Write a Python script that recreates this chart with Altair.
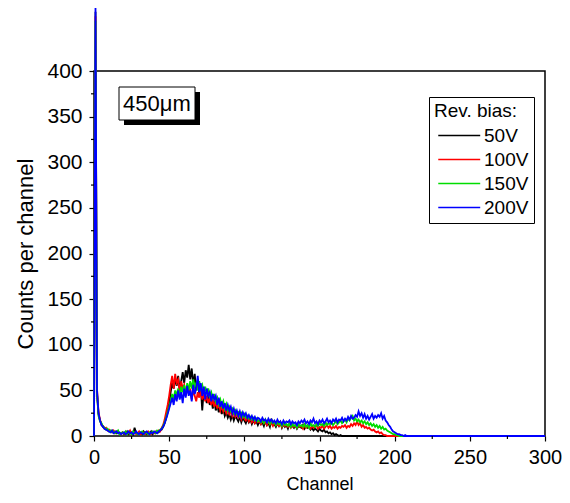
import altair as alt
import pandas as pd

# ---------------- data ----------------
series_names = ["50V", "100V", "150V", "200V"]
series_colors = ["#000000", "#ff0000", "#00dd00", "#0000ff"]

# counts per channel, channel = index (0, 1, 2, ...); the rest is 0 up to channel 300
counts_50v = [
    0, 465, 46, 24, 17, 13, 10, 9, 8, 7,
    6, 5, 6, 4, 5, 3, 4, 2, 3, 4,
    2, 3, 5, 2, 3, 4, 2, 9, 3, 2,
    4, 3, 2, 5, 3, 2, 4, 3, 5, 2,
    4, 3, 5, 4, 6, 7, 10, 14, 20, 27,
    36, 48, 58, 52, 63, 55, 66, 50, 60, 70,
    58, 72, 64, 78, 62, 74, 56, 68, 50, 60,
    46, 54, 28, 50, 44, 36, 46, 34, 42, 30,
    38, 28, 34, 26, 32, 24, 30, 22, 26, 20,
    24, 18, 23, 17, 22, 19, 16, 21, 15, 20,
    17, 14, 19, 15, 18, 13, 17, 14, 16, 12,
    16, 13, 15, 11, 17, 12, 14, 10, 19, 12,
    13, 10, 14, 11, 15, 9, 13, 10, 12, 8,
    13, 10, 11, 9, 12, 8, 11, 10, 9, 12,
    8, 11, 9, 10, 7, 9, 6, 8, 7, 5,
    8, 6, 5, 7, 4, 5, 3, 4, 2, 3,
    1, 2, 1, 0, 1, 0, 0,
]
counts_100v = [
    0, 460, 52, 26, 18, 12, 11, 8, 9, 6,
    7, 5, 4, 6, 3, 5, 4, 3, 2, 4,
    3, 2, 4, 3, 6, 2, 3, 4, 2, 3,
    5, 2, 3, 4, 2, 3, 5, 3, 2, 4,
    3, 5, 4, 6, 5, 9, 12, 18, 26, 34,
    44, 56, 66, 52, 68, 58, 62, 48, 60, 52,
    56, 44, 54, 46, 52, 40, 50, 44, 38, 48,
    42, 50, 40, 46, 38, 44, 36, 42, 34, 40,
    32, 38, 30, 36, 28, 33, 27, 31, 25, 29,
    24, 28, 22, 26, 21, 24, 20, 23, 18, 22,
    19, 17, 21, 16, 19, 15, 18, 14, 17, 15,
    16, 13, 17, 14, 15, 12, 16, 13, 14, 11,
    15, 12, 13, 11, 14, 10, 13, 11, 12, 10,
    13, 9, 12, 10, 11, 9, 12, 10, 11, 8,
    12, 9, 11, 10, 8, 11, 9, 10, 12, 8,
    10, 9, 11, 8, 10, 12, 9, 11, 8, 10,
    9, 11, 8, 10, 9, 11, 10, 12, 9, 11,
    10, 13, 11, 14, 12, 16, 12, 14, 10, 12,
    9, 10, 8, 9, 7, 6, 7, 5, 4, 5,
    3, 4, 2, 1, 1, 0, 0,
]
counts_150v = [
    0, 455, 48, 22, 16, 14, 10, 9, 7, 8,
    5, 6, 4, 5, 3, 4, 6, 2, 3, 4,
    3, 5, 2, 4, 3, 2, 5, 3, 4, 2,
    3, 4, 5, 2, 4, 3, 2, 4, 3, 5,
    4, 3, 6, 5, 7, 8, 11, 15, 20, 26,
    32, 38, 46, 40, 50, 44, 52, 42, 54, 48,
    56, 46, 58, 50, 60, 52, 62, 54, 58, 50,
    60, 52, 56, 48, 54, 46, 52, 44, 48, 40,
    46, 38, 42, 35, 40, 33, 38, 30, 35, 28,
    32, 27, 30, 25, 28, 24, 26, 22, 25, 21,
    24, 20, 22, 19, 21, 18, 20, 17, 19, 16,
    18, 15, 17, 14, 18, 15, 16, 13, 17, 14,
    15, 12, 16, 13, 14, 11, 15, 12, 13, 11,
    14, 10, 13, 11, 12, 9, 13, 11, 12, 10,
    13, 10, 12, 9, 14, 11, 12, 10, 13, 11,
    14, 12, 13, 11, 15, 12, 14, 13, 15, 12,
    14, 16, 13, 15, 17, 14, 16, 18, 15, 19,
    17, 20, 22, 17, 19, 16, 18, 15, 17, 14,
    16, 13, 15, 12, 14, 11, 13, 10, 12, 9,
    11, 8, 10, 7, 8, 6, 5, 4, 3, 2,
    2, 1, 1, 0, 0,
]
counts_200v = [
    0, 470, 50, 25, 17, 12, 10, 8, 7, 6,
    5, 4, 6, 3, 4, 5, 3, 4, 2, 3,
    4, 2, 3, 5, 3, 4, 2, 3, 5, 3,
    2, 4, 3, 2, 4, 5, 3, 2, 4, 3,
    5, 4, 3, 5, 6, 8, 10, 14, 19, 24,
    30, 36, 42, 34, 46, 38, 50, 40, 48, 36,
    52, 42, 55, 44, 50, 38, 56, 46, 52, 66,
    48, 58, 44, 54, 40, 52, 44, 48, 38, 46,
    40, 44, 34, 42, 32, 38, 30, 36, 28, 34,
    28, 32, 25, 30, 24, 28, 22, 27, 21, 26,
    22, 25, 20, 23, 19, 22, 18, 21, 17, 20,
    19, 16, 20, 17, 18, 15, 19, 16, 18, 15,
    17, 14, 18, 15, 16, 13, 17, 14, 16, 15,
    17, 13, 16, 14, 15, 12, 16, 14, 17, 15,
    18, 14, 16, 13, 17, 15, 19, 14, 16, 13,
    17, 15, 18, 14, 16, 19, 15, 17, 14, 18,
    16, 19, 15, 18, 17, 20, 16, 19, 17, 21,
    18, 22, 19, 20, 23, 21, 27, 22, 25, 20,
    24, 19, 22, 18, 21, 24, 19, 22, 20, 23,
    21, 25, 19, 22, 17, 15, 12, 10, 7, 5,
    4, 3, 2, 2, 1, 1, 0, 1, 0, 0,
]
last_channel = 300

x_ticks = [0, 50, 100, 150, 200, 250, 300]
x_minor = [25, 75, 125, 175, 225, 275]
y_ticks = [0, 50, 100, 150, 200, 250, 300, 350, 400]
y_minor = [25, 75, 125, 175, 225, 275, 325, 375]
sample_label = "450μm"

# ---------------- build table ----------------
rows = []
for name, vals in zip(series_names, [counts_50v, counts_100v, counts_150v, counts_200v]):
    for i, v in enumerate(vals):
        rows.append({"channel": i, "counts": v, "bias": name})
    rows.append({"channel": last_channel, "counts": 0, "bias": name})
df = pd.DataFrame(rows)

FONT = "Liberation Sans"

x_enc = alt.X(
    "channel:Q",
    scale=alt.Scale(domain=[0, 300], nice=False, zero=False),
    axis=alt.Axis(values=x_ticks, title="Channel", titleFontSize=18, titlePadding=8,
                  labelPadding=6, labelFontSize=20, format="d", labelFlush=False),
)
y_enc = alt.Y(
    "counts:Q",
    scale=alt.Scale(domain=[0, 400], nice=False, zero=False),
    axis=alt.Axis(values=y_ticks, title="Counts per channel", titleFontSize=22, titlePadding=9,
                  labelPadding=7, labelFontSize=21, format="d", labelFlush=False),
)
legend = alt.Legend(
    title="Rev. bias:", orient="none", legendX=335, legendY=26,
    strokeColor="black", fillColor="white", padding=5,
    symbolType="M-1,0H7", symbolSize=110, symbolStrokeWidth=1.5, labelOffset=31,
    labelFontSize=19, titleFontSize=19, titleFontWeight="normal",
    labelFont=FONT, titleFont=FONT, labelColor="black", titleColor="black",
    rowPadding=4, titlePadding=5,
)
color_enc = alt.Color(
    "bias:N",
    scale=alt.Scale(domain=series_names, range=series_colors),
    legend=legend,
    sort=series_names,
)

layers = []
for name in series_names:
    layers.append(
        alt.Chart(df[df.bias == name]).mark_line(strokeWidth=1.8, clip=False)
        .encode(x=x_enc, y=y_enc, color=color_enc)
    )

# minor ticks (outward, shorter)
ymin_df = pd.DataFrame({"counts": y_minor})
xmin_df = pd.DataFrame({"channel": x_minor})
minor_y = alt.Chart(ymin_df).mark_rule(color="black", strokeWidth=1.2).encode(
    y=y_enc, x=alt.value(-3), x2=alt.value(0))
minor_x = alt.Chart(xmin_df).mark_rule(color="black", strokeWidth=1.2).encode(
    x=x_enc, y=alt.value(365), y2=alt.value(368))

# sample label box with drop shadow
lab = alt.Data(values=[{"t": sample_label}])
shadow = alt.Chart(lab).mark_rect(fill="black").encode(
    x=alt.value(30), x2=alt.value(106), y=alt.value(21), y2=alt.value(54))
box = alt.Chart(lab).mark_rect(fill="white", stroke="black", strokeWidth=1).encode(
    x=alt.value(25), x2=alt.value(101), y=alt.value(16), y2=alt.value(49))
txt = alt.Chart(lab).mark_text(align="left", baseline="middle", fontSize=22, font=FONT,
                               color="black").encode(
    x=alt.value(29), y=alt.value(33), text="t:N")

chart = (
    alt.layer(*layers, minor_y, minor_x, shadow, box, txt)
    .properties(
        width=451, height=365,
        autosize=alt.AutoSizeParams(type="none"),
        padding={"left": 86, "top": 63, "right": 17, "bottom": 59},
        background="white",
    )
    .configure_view(stroke="black", strokeWidth=1.5)
    .configure_axis(
        domain=False, grid=False, tickColor="black", tickSize=5, tickWidth=1.2,
        labelColor="black", titleColor="black", labelFont=FONT, titleFont=FONT,
        titleFontWeight="normal",
    )
)

chart.save("out.html", embed_options={"renderer": "svg", "actions": False})
